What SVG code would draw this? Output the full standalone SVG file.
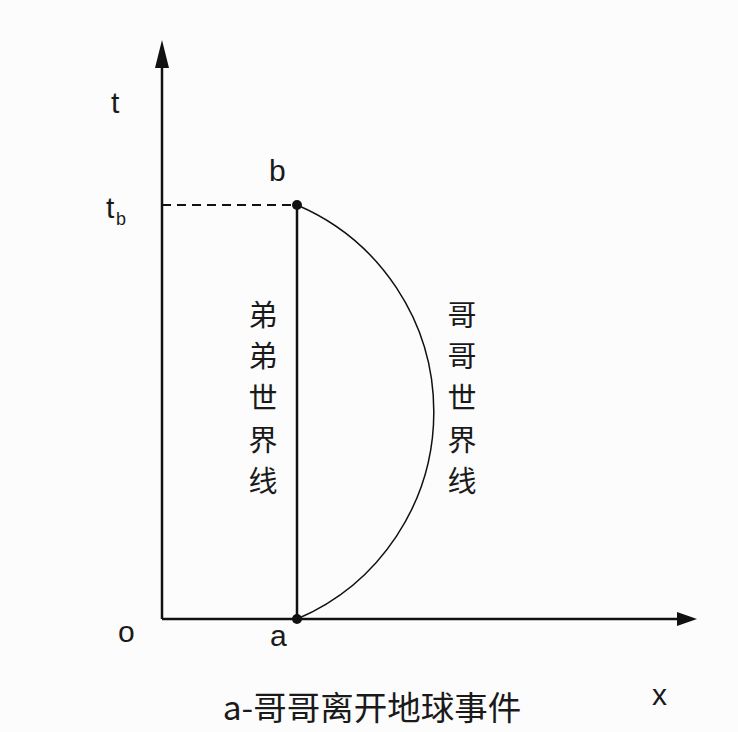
<svg xmlns="http://www.w3.org/2000/svg" width="738" height="732" viewBox="0 0 738 732">
<style>
.lat{font-family:"Liberation Sans",Arial,sans-serif;fill:#1a1a1a}
.cjk{font-family:"Noto Sans CJK SC","Liberation Sans",sans-serif;fill:#1a1a1a;font-size:29px;text-anchor:middle}
.cap{font-size:33.5px}
.ln{stroke:#111;fill:none}
</style>
<rect width="738" height="732" fill="#fcfcfc"/>
<g id="connectors">
<line class="ln" x1="162" y1="619" x2="162" y2="62" stroke-width="2.5"/>
<polygon points="162,40 155,68 169,68" fill="#111"/>
<line class="ln" x1="162" y1="619" x2="680" y2="619" stroke-width="2.5"/>
<polygon points="697,619 677,612 677,626" fill="#111"/>
<line class="ln" x1="162" y1="205" x2="297" y2="205" stroke-width="1.8" stroke-dasharray="9,6"/>
<line class="ln" x1="297" y1="205" x2="297" y2="619" stroke-width="2.5"/>
<path class="ln" d="M297,205 A225,225 0 0 1 297,619" stroke-width="1.5"/>
</g>
<g id="node-b"><circle cx="297" cy="205" r="5" fill="#111"/></g>
<g id="node-a"><circle cx="297" cy="619" r="5" fill="#111"/></g>
<g id="labels">
<text class="lat" x="111" y="113" font-size="30">t</text>
<text class="lat" x="269" y="181" font-size="30">b</text>
<text class="lat" x="106" y="218" font-size="30">t</text>
<text class="lat" x="116" y="225" font-size="18">b</text>
<text class="lat" x="118" y="642" font-size="30">o</text>
<text class="lat" x="270" y="646" font-size="30">a</text>
<text class="lat" x="652" y="705" font-size="30">x</text>
</g>
<g id="label-didi">
<text class="cjk" x="263" y="326">弟</text>
<text class="cjk" x="263" y="367">弟</text>
<text class="cjk" x="263" y="409">世</text>
<text class="cjk" x="263" y="451">界</text>
<text class="cjk" x="263" y="492">线</text>
</g>
<g id="label-gege">
<text class="cjk" x="462" y="326">哥</text>
<text class="cjk" x="462" y="367">哥</text>
<text class="cjk" x="462" y="409">世</text>
<text class="cjk" x="462" y="451">界</text>
<text class="cjk" x="462" y="492">线</text>
</g>
<g id="caption">
<text class="cjk cap" x="372" y="720">a-哥哥离开地球事件</text>
</g>
</svg>
